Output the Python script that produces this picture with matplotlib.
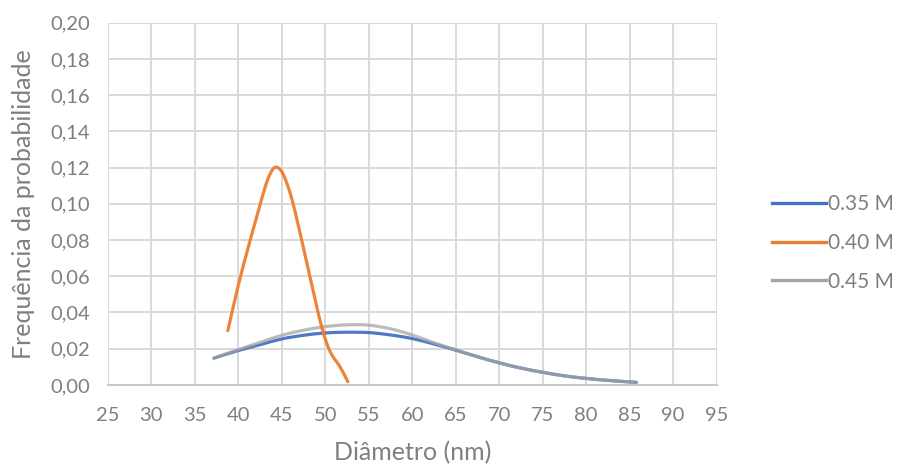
import numpy as np
import matplotlib
matplotlib.use("Agg")
import matplotlib.pyplot as plt
from matplotlib.path import Path
from matplotlib.patches import PathPatch
from matplotlib.lines import Line2D

plt.rcParams['font.family'] = ['Lato', 'DejaVu Sans']

# Size distributions (diameter in nm, probability frequency)
x_035 = [37.2, 40.0, 42.5, 45.0, 47.5, 50.0, 52.5, 55.0, 57.5, 60.0, 62.5,
         65.0, 67.5, 70.0, 72.5, 75.0, 77.5, 80.0, 82.5, 85.8]
y_035 = [0.0148, 0.0190, 0.0222, 0.0254, 0.0274, 0.0287, 0.0291, 0.0289,
         0.0276, 0.0256, 0.0226, 0.0192, 0.0156, 0.0122, 0.0093, 0.0070,
         0.0050, 0.0036, 0.0025, 0.0014]

x_040 = [38.8, 40.0, 41.2, 42.3, 43.2, 43.8, 44.3, 44.9, 45.5, 46.2, 47.0,
         47.9, 48.8, 49.7, 50.6, 51.7, 52.6]
y_040 = [0.0300, 0.0550, 0.0770, 0.0960, 0.1110, 0.1178, 0.1203, 0.1185,
         0.1125, 0.1020, 0.0860, 0.0670, 0.0480, 0.0300, 0.0180, 0.0100,
         0.0018]

x_045 = [37.2, 40.0, 42.5, 45.0, 47.5, 50.0, 52.5, 55.0, 57.5, 60.0, 62.5,
         65.0, 67.5, 70.0, 72.5, 75.0, 77.5, 80.0, 82.5, 85.8]
y_045 = [0.0148, 0.0195, 0.0235, 0.0274, 0.0302, 0.0322, 0.0332, 0.0330,
         0.0310, 0.0276, 0.0233, 0.0194, 0.0156, 0.0122, 0.0093, 0.0070,
         0.0050, 0.0036, 0.0025, 0.0014]

series_labels = ['0.35 M', '0.40 M', '0.45 M']
series_colors = ['#4472C4', '#ED7D31', '#A5A5A5']

x_ticks = list(range(25, 100, 5))
y_ticks = [0.00, 0.02, 0.04, 0.06, 0.08, 0.10, 0.12, 0.14, 0.16, 0.18, 0.20]


def smooth_path(xs, ys):
    """Bezier path through the points with Catmull-Rom style tangents."""
    pts = np.column_stack([xs, ys]).astype(float)
    n = len(pts)
    verts = [pts[0]]
    codes = [Path.MOVETO]
    for i in range(n - 1):
        p0 = pts[i - 1] if i > 0 else pts[i]
        p1 = pts[i]
        p2 = pts[i + 1]
        p3 = pts[i + 2] if i + 2 < n else pts[i + 1]
        c1 = p1 + (p2 - p0) / 6.0
        c2 = p2 - (p3 - p1) / 6.0
        verts += [c1, c2, p2]
        codes += [Path.CURVE4] * 3
    return Path(verts, codes)


fig = plt.figure(figsize=(8.99, 4.66), dpi=100)
ax = fig.add_axes([0.120, 0.174, 0.677, 0.777])

text_color = '#7f7f7f'
grid_color = '#d9d9d9'

ax.set_xlim(25, 95)
ax.set_ylim(0, 0.20)
ax.set_xticks(x_ticks)
ax.set_yticks(y_ticks)
ax.set_xticklabels([str(v) for v in x_ticks])
ax.set_yticklabels([f"{v:.2f}".replace('.', ',') for v in y_ticks])
ax.grid(True, color=grid_color, linewidth=1.4)
ax.set_axisbelow(True)
for side in ['top', 'right', 'left']:
    ax.spines[side].set_visible(False)
ax.spines['bottom'].set_color('#c8c8c8')
ax.spines['bottom'].set_linewidth(1.4)
ax.tick_params(length=0, colors=text_color, labelsize=14.5)
ax.tick_params(axis='x', pad=16)
ax.tick_params(axis='y', pad=13)

# blue first, gray over it, orange on top
data = [(x_035, y_035, series_colors[0], 3, 0.95),
        (x_045, y_045, series_colors[2], 4, 0.75),
        (x_040, y_040, series_colors[1], 5, 0.95)]
for xs, ys, col, z, a in data:
    patch = PathPatch(smooth_path(xs, ys), fill=False, edgecolor=col,
                      linewidth=2.3, capstyle='round', joinstyle='round',
                      zorder=z, alpha=a)
    ax.add_patch(patch)

ax.set_xlabel('Diâmetro (nm)', color=text_color, fontsize=18, labelpad=12)
ax.set_ylabel('Frequência da probabilidade', color=text_color, fontsize=18,
              labelpad=11)

handles = [Line2D([], [], color=c, linewidth=2.4) for c in series_colors]
leg = fig.legend(handles, series_labels, loc='center left',
                 bbox_to_anchor=(0.8587, 0.4785), frameon=False,
                 borderpad=0, borderaxespad=0,
                 handlelength=2.6, handletextpad=0.1, labelspacing=0.9,
                 fontsize=15)
for t in leg.get_texts():
    t.set_color(text_color)

fig.savefig('out.png', dpi=100)
